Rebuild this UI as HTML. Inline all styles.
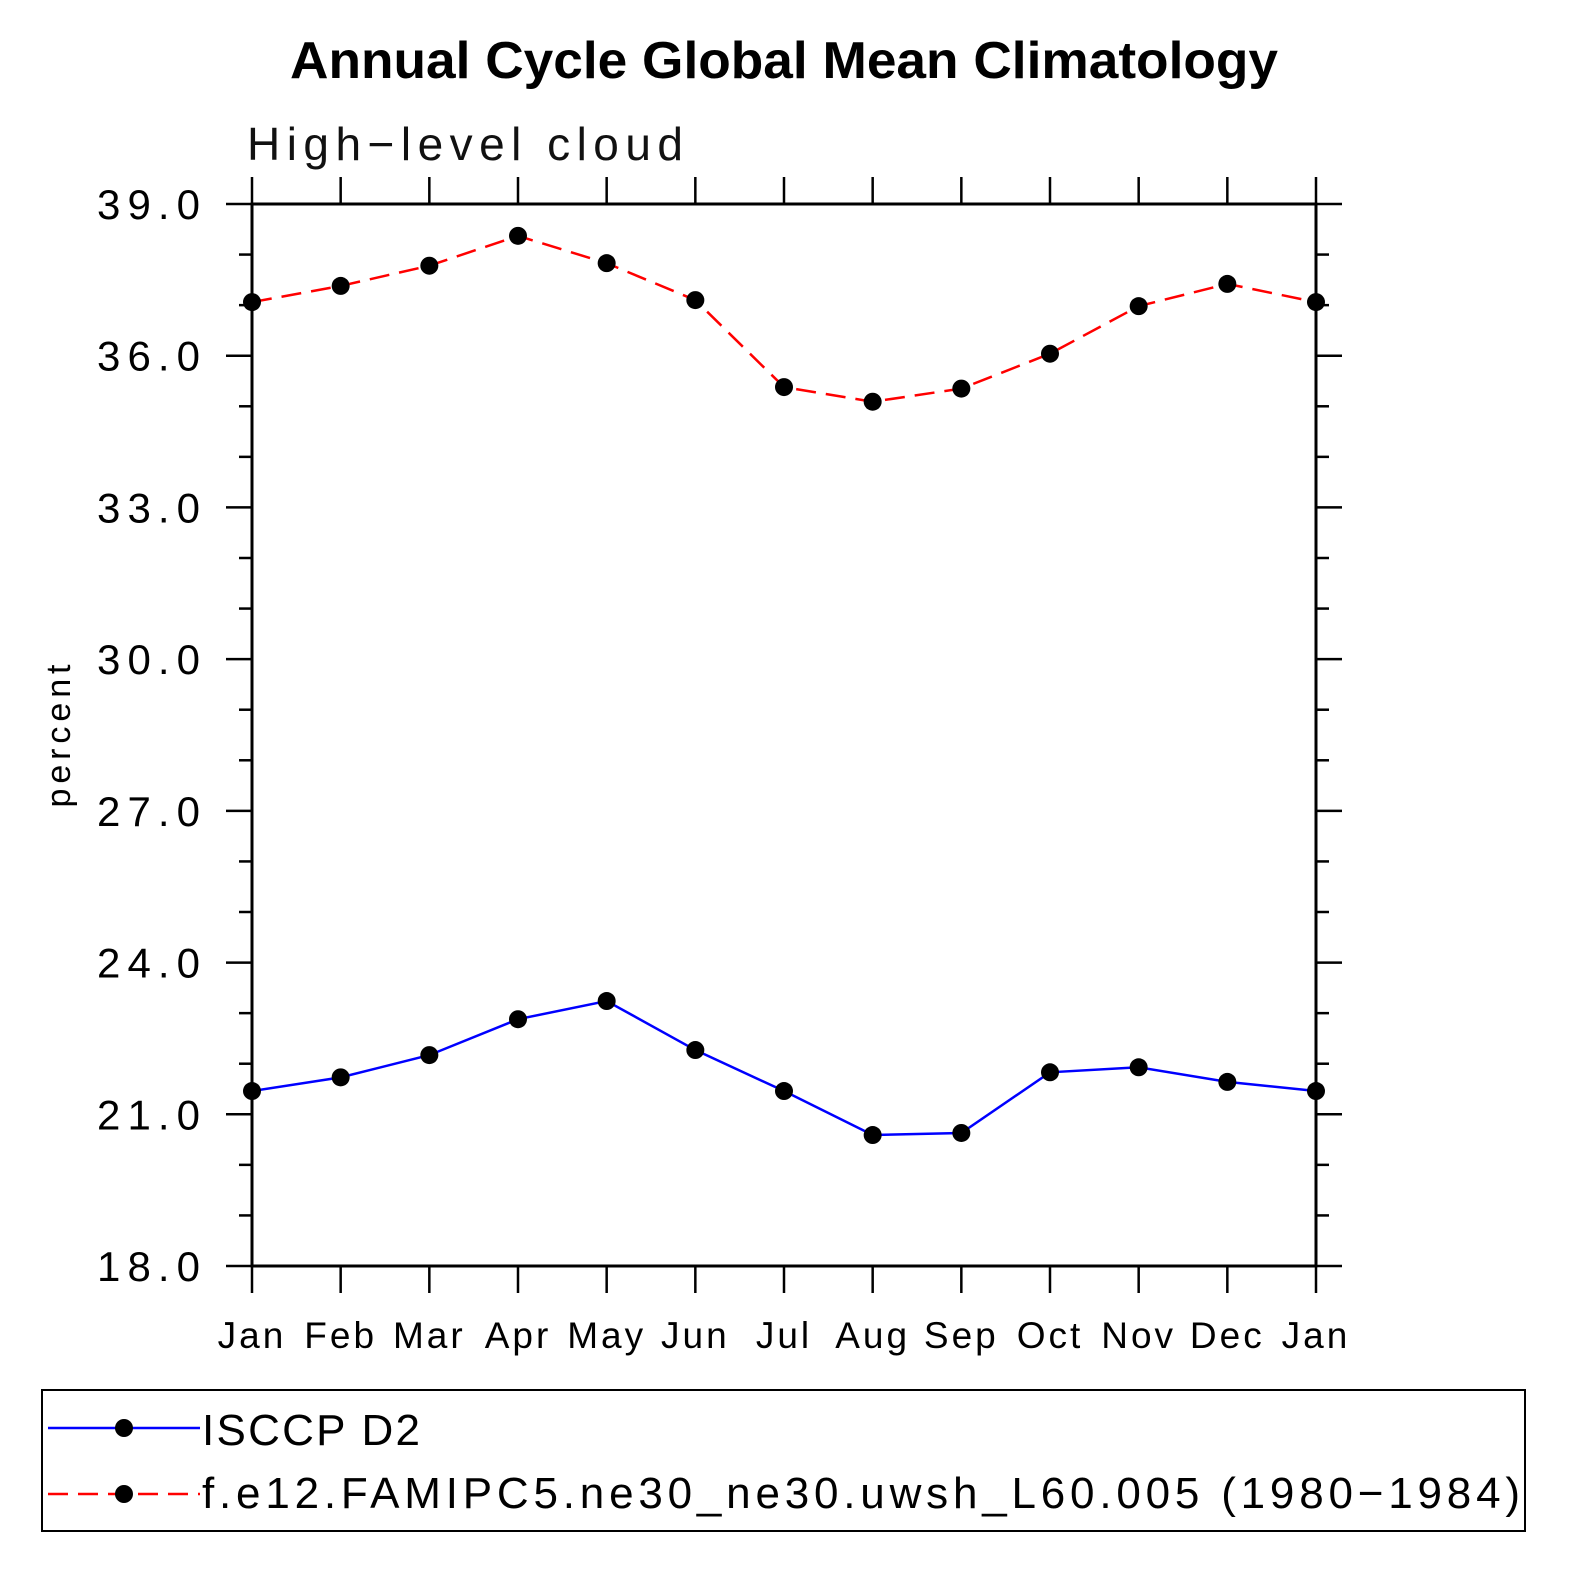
<!DOCTYPE html>
<html><head><meta charset="utf-8"><style>
html,body{margin:0;padding:0;background:#fff;}
svg{display:block;font-family:"Liberation Sans",sans-serif;}
</style></head><body>
<svg id="chart" width="1586" height="1586" viewBox="0 0 1586 1586">
<text x="784" y="78" text-anchor="middle" font-size="52" font-weight="bold" textLength="988" lengthAdjust="spacingAndGlyphs">Annual Cycle Global Mean Climatology</text>
<text x="247" y="160" font-size="46" font-weight="300" fill="#111" textLength="436">High−level cloud</text>
<text transform="translate(70,736) rotate(-90)" text-anchor="middle" font-size="34" textLength="143">percent</text>
<g id="axes"></g>
<g id="series"></g>
<rect x="42" y="1390" width="1483" height="141" fill="none" stroke="#000" stroke-width="2"/>
<g>
<line x1="48" y1="1428" x2="200" y2="1428" stroke="#00f" stroke-width="2.5"/>
<circle cx="124" cy="1428" r="9" fill="#000"/>
<text x="202" y="1445" font-size="44" font-weight="300" textLength="218">ISCCP D2</text>
</g>
<g>
<line x1="48" y1="1494" x2="200" y2="1494" stroke="#f00" stroke-width="2.5" stroke-dasharray="20,10"/>
<circle cx="124" cy="1494" r="9" fill="#000"/>
<text x="202" y="1508" font-size="44" font-weight="300" textLength="1318">f.e12.FAMIPC5.ne30_ne30.uwsh_L60.005 (1980−1984)</text>
</g>
</svg>
<script>
const months = ["Jan","Feb","Mar","Apr","May","Jun","Jul","Aug","Sep","Oct","Nov","Dec","Jan"];
const isccp = [21.46,21.73,22.17,22.88,23.24,22.27,21.46,20.59,20.63,21.83,21.93,21.64,21.46];
const model = [37.06,37.38,37.78,38.37,37.83,37.10,35.38,35.09,35.35,36.04,36.98,37.42,37.06];
const yTicks = [18,21,24,27,30,33,36,39];
const yMin = 18, yMax = 39;
const X0=252, X1=1316, Y0=204, Y1=1266;
const xs = i => X0 + i*(X1-X0)/(months.length-1);
const ys = v => Y0 + (yMax - v)*(Y1-Y0)/(yMax-yMin);
const NS="http://www.w3.org/2000/svg";
function mk(tag, attrs, parent){const e=document.createElementNS(NS,tag);for(const k in attrs)e.setAttribute(k,attrs[k]);parent.appendChild(e);return e;}
const ax=document.getElementById('axes');
const frame=mk('rect',{x:X0,y:Y0,width:X1-X0,height:Y1-Y0,fill:'none',stroke:'#000','stroke-width':3},ax);


for(let v=yMin; v<=yMax; v++){
  const major = yTicks.includes(v);
  const L = major?26:13, y=ys(v);
  mk('line',{x1:X0-L,y1:y,x2:X0,y2:y,stroke:'#000','stroke-width':2.5},ax);
  mk('line',{x1:X1,y1:y,x2:X1+L,y2:y,stroke:'#000','stroke-width':2.5},ax);
  if(major){
    const t=mk('text',{x:97,y:y+15,'font-size':42,'font-weight':300,textLength:103},ax);
    t.textContent=v.toFixed(1);
    
    
  }
}
months.forEach((m,i)=>{
  const x=xs(i);
  mk('line',{x1:x,y1:Y0-27,x2:x,y2:Y0,stroke:'#000','stroke-width':2.5},ax);
  mk('line',{x1:x,y1:Y1,x2:x,y2:Y1+27,stroke:'#000','stroke-width':2.5},ax);
  const t=mk('text',{x:x,y:1348,'text-anchor':'middle','font-size':37,'font-weight':300,'letter-spacing':3},ax);
  t.textContent=m;
  
  
});
const sg=document.getElementById('series');
function drawSeries(vals,color,dash,name){
  const p=mk('polyline',{points:vals.map((v,i)=>xs(i)+','+ys(v)).join(' '),fill:'none',stroke:color,'stroke-width':2.5,'stroke-dasharray':dash},sg);
  
  
  vals.forEach((v,i)=>{
    const c=mk('circle',{cx:xs(i),cy:ys(v),r:9,fill:'#000'},sg);
    
    
  });
}
drawSeries(isccp,'#00f','none','isccp');
drawSeries(model,'#f00','20,10','model');
</script>
</body></html>
